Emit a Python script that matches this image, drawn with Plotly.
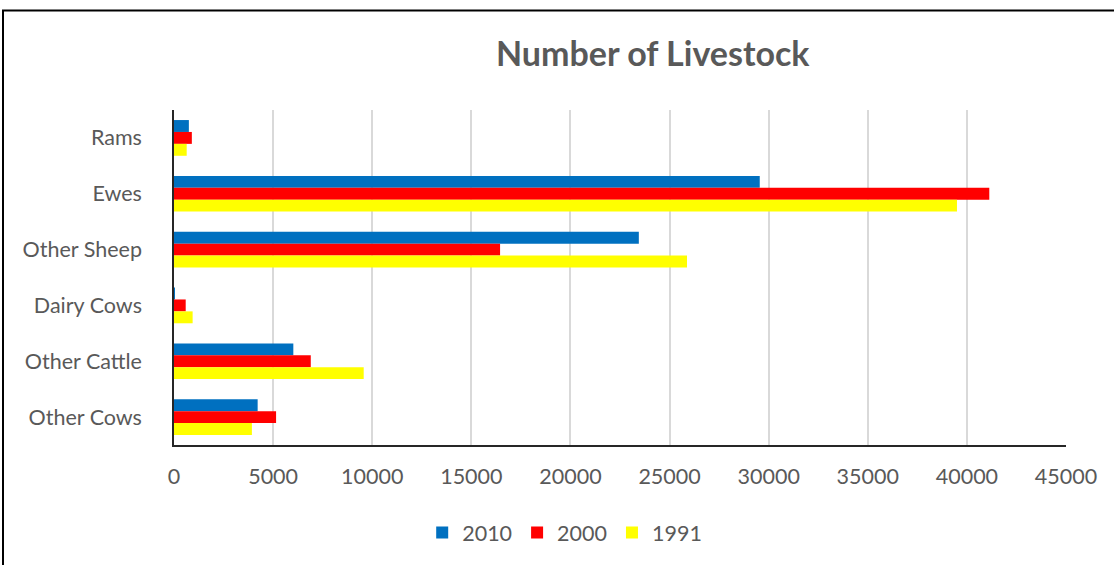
import plotly.graph_objects as go

# Livestock categories, top to bottom
categories = ["Rams", "Ewes", "Other Sheep", "Dairy Cows", "Other Cattle", "Other Cows"]

# Head counts per year
values_2010 = [750, 29550, 23450, 50, 6020, 4220]
values_2000 = [900, 41130, 16450, 590, 6900, 5150]
values_1991 = [640, 39500, 25880, 940, 9570, 3930]

x_ticks = [0, 5000, 10000, 15000, 20000, 25000, 30000, 35000, 40000, 45000]

series = [
    ("2010", values_2010, "#0070C0"),
    ("2000", values_2000, "#FF0000"),
    ("1991", values_1991, "#FFFF00"),
]

FONT = "Lato, Calibri, 'Open Sans', sans-serif"
GREY = "#595959"

fig = go.Figure()
for name, vals, color in series:
    fig.add_trace(go.Bar(
        y=categories, x=vals, name=name, orientation="h",
        marker=dict(color=color, line=dict(width=0)),
    ))

fig.update_layout(
    width=1114, height=565,
    margin=dict(l=174, r=48, t=110, b=117),
    paper_bgcolor="white", plot_bgcolor="white",
    barmode="group", bargap=0.36, bargroupgap=0,
    font=dict(family=FONT, color=GREY, size=21.5),
    showlegend=True,
    legend=dict(
        orientation="h", x=0.438, xanchor="center", y=-0.2, yanchor="top",
        font=dict(size=21.5, color=GREY), traceorder="normal",
        itemwidth=30,
    ),
    xaxis=dict(
        range=[0, 45000], tickvals=x_ticks, ticktext=[str(t) for t in x_ticks],
        showgrid=True, gridcolor="#D9D9D9", gridwidth=1.5,
        showline=True, linecolor="#262626", linewidth=1.5,
        zeroline=False, ticks="", ticklabelstandoff=11,
        tickfont=dict(size=21.5, color=GREY), fixedrange=True,
    ),
    yaxis=dict(
        categoryorder="array", categoryarray=categories, autorange="reversed",
        showline=True, linecolor="#262626", linewidth=1.5,
        showgrid=False, ticks="", ticklabelstandoff=26,
        tickfont=dict(size=21.5, color=GREY), fixedrange=True,
    ),
    annotations=[dict(
        text="<b>Number of Livestock</b>", xref="paper", yref="paper",
        x=(653 - 174) / 892, y=1 + (110 - 52) / 338, xanchor="center", yanchor="middle",
        showarrow=False, font=dict(size=34, color=GREY, family=FONT),
    )],
    shapes=[dict(
        type="rect", xref="paper", yref="paper",
        x0=(3 - 174) / 892, x1=1.3, y0=-0.6, y1=1 + (110 - 9.5) / 338,
        line=dict(color="black", width=2), fillcolor="rgba(0,0,0,0)", layer="above",
    )],
)

fig.write_html("out.html")
